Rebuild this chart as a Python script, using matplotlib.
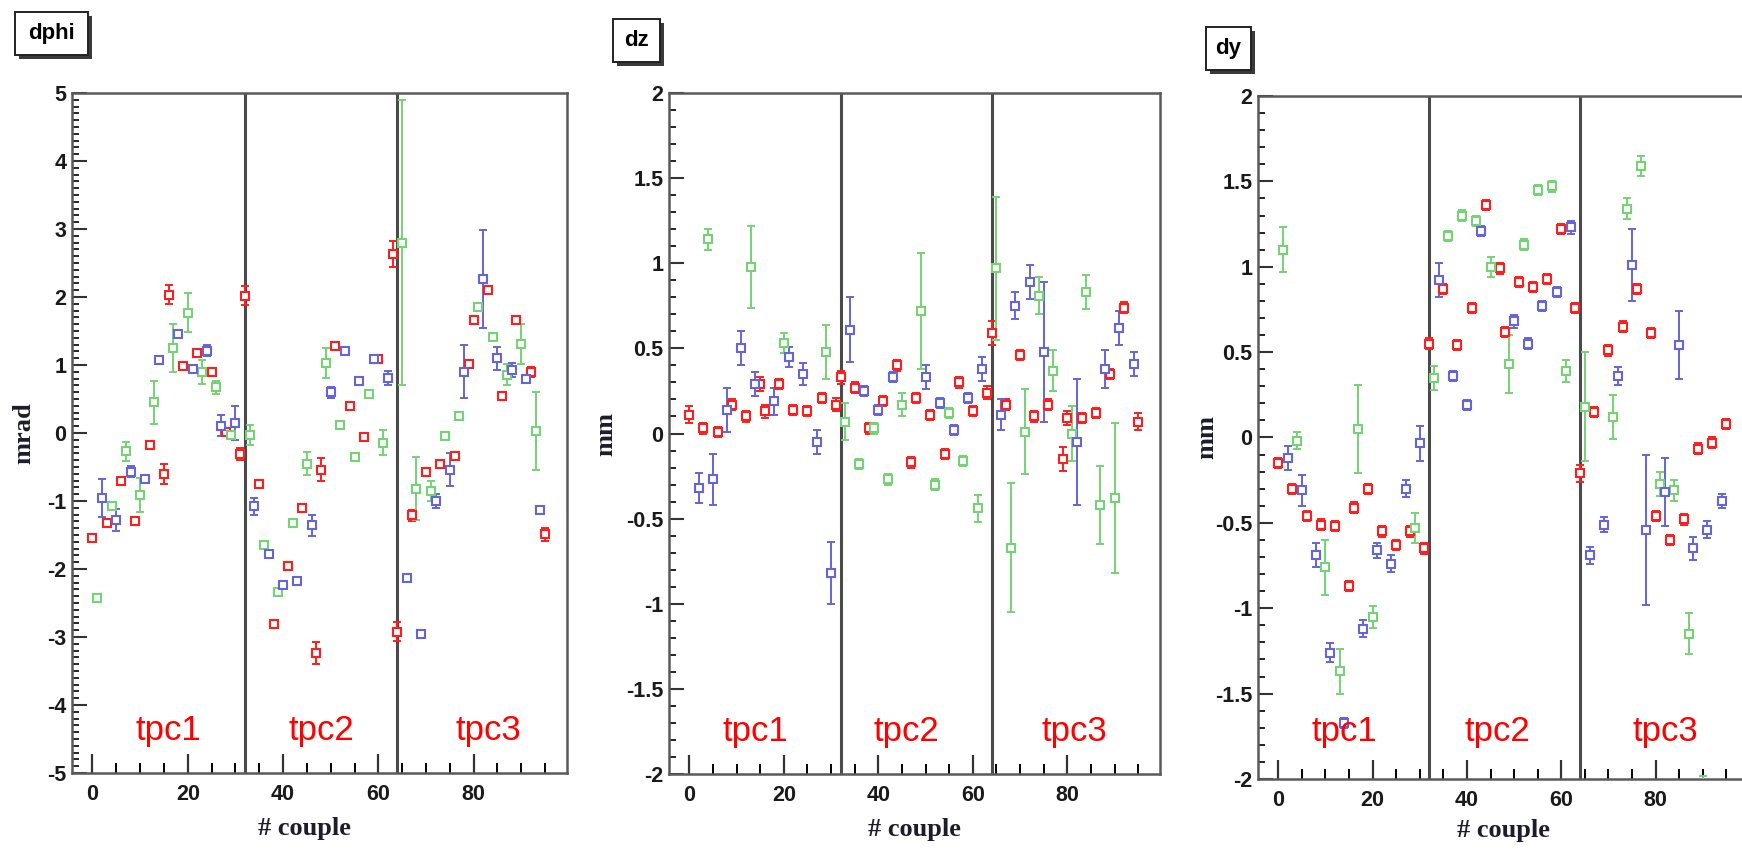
import numpy as np
import matplotlib
matplotlib.use("Agg")
import matplotlib.pyplot as plt
from matplotlib.patches import Rectangle
from matplotlib.ticker import MultipleLocator, FormatStrFormatter

# --- data: one value per couple index (0..95) ---
nan = np.nan
couple = np.arange(96)
# colour of each couple (r/g/b repeats inside each block of 16)
SECTOR = "rgbrgbrgbrgbrgbr" * 6

dphi = [-1.54, -2.42, -0.96, -1.33, -1.08, -1.28, -0.71, -0.27, -0.57, -1.30,
        -0.91, -0.67, -0.17, 0.45, 1.07, -0.60, 2.03, 1.25, 1.45, 0.98,
        1.77, 0.94, 1.18, 0.90, 1.21, 0.90, 0.67, 0.11, 0.01, -0.03,
        0.14, -0.31, 2.02, -0.03, -1.08, -0.75, -1.65, -1.78, -2.81, -2.34,
        -2.23, -1.95, -1.32, -2.18, -1.10, -0.45, -1.36, -3.24, -0.54, 1.03,
        0.60, 1.28, 0.12, 1.21, 0.40, -0.36, 0.77, -0.06, 0.58, 1.09,
        1.09, -0.14, 0.81, 2.63, -2.92, 2.80, -2.13, -1.21, -0.82, -2.95,
        -0.57, -0.85, -1.00, -0.45, -0.05, -0.54, -0.34, 0.25, 0.90, 1.01,
        1.66, 1.86, 2.27, 2.10, 1.41, 1.10, 0.54, 0.86, 0.93, 1.66,
        1.31, 0.79, 0.90, 0.03, -1.13, -1.49]
dphi_err = [0.04, 0.04, 0.28, 0.05, 0.04, 0.16, 0.04, 0.14, 0.08, 0.05,
            0.25, 0.04, 0.05, 0.32, 0.04, 0.15, 0.14, 0.35, 0.04, 0.05,
            0.29, 0.04, 0.05, 0.18, 0.08, 0.06, 0.10, 0.15, 0.05, 0.04,
            0.25, 0.09, 0.14, 0.15, 0.13, 0.04, 0.04, 0.04, 0.04, 0.04,
            0.04, 0.04, 0.04, 0.04, 0.04, 0.17, 0.15, 0.16, 0.17, 0.22,
            0.08, 0.04, 0.04, 0.04, 0.04, 0.04, 0.04, 0.04, 0.04, 0.04,
            0.04, 0.18, 0.10, 0.19, 0.14, 2.10, 0.04, 0.08, 0.46, 0.04,
            0.04, 0.15, 0.10, 0.04, 0.04, 0.24, 0.04, 0.04, 0.39, 0.05,
            0.06, 0.04, 0.72, 0.05, 0.04, 0.17, 0.05, 0.16, 0.10, 0.05,
            0.30, 0.04, 0.07, 0.57, 0.04, 0.10]

dz = [0.11, nan, -0.32, 0.03, 1.14, -0.27, 0.01, nan, 0.14, 0.17,
      nan, 0.50, 0.10, 0.98, 0.29, 0.29, 0.13, nan, 0.19, 0.29,
      0.53, 0.45, 0.14, nan, 0.35, 0.13, nan, -0.05, 0.21, 0.48,
      -0.82, 0.17, 0.33, 0.07, 0.61, 0.27, -0.18, 0.25, 0.03, 0.03,
      0.14, 0.19, -0.27, 0.33, 0.40, 0.17, nan, -0.17, 0.21, 0.72,
      0.33, 0.11, -0.30, 0.18, -0.12, 0.12, 0.02, 0.30, -0.16, 0.21,
      0.13, -0.44, 0.38, 0.24, 0.59, 0.97, 0.11, 0.17, -0.67, 0.75,
      0.46, 0.01, 0.89, 0.10, 0.81, 0.48, 0.17, 0.37, nan, -0.15,
      0.09, 0.00, -0.05, 0.09, 0.83, nan, 0.12, -0.42, 0.38, 0.35,
      -0.38, 0.62, 0.74, nan, 0.41, 0.07]
dz_err = [0.05, 0.03, 0.09, 0.03, 0.06, 0.15, 0.03, 0.03, 0.13, 0.03,
          0.03, 0.10, 0.03, 0.24, 0.07, 0.04, 0.04, 0.03, 0.08, 0.03,
          0.06, 0.06, 0.03, 0.03, 0.065, 0.03, 0.03, 0.07, 0.03, 0.16,
          0.18, 0.04, 0.04, 0.11, 0.19, 0.03, 0.03, 0.03, 0.03, 0.03,
          0.03, 0.03, 0.03, 0.03, 0.03, 0.07, 0.03, 0.03, 0.03, 0.34,
          0.07, 0.03, 0.03, 0.03, 0.03, 0.03, 0.03, 0.03, 0.03, 0.03,
          0.03, 0.08, 0.07, 0.04, 0.07, 0.42, 0.09, 0.03, 0.38, 0.08,
          0.03, 0.25, 0.10, 0.03, 0.11, 0.41, 0.03, 0.12, 0.03, 0.07,
          0.04, 0.16, 0.37, 0.03, 0.10, 0.03, 0.03, 0.23, 0.11, 0.03,
          0.44, 0.10, 0.03, 0.03, 0.07, 0.05]

dy = [-0.15, 1.10, -0.12, -0.30, -0.02, -0.31, -0.46, nan, -0.69, -0.51,
      -0.76, -1.26, -0.52, -1.37, -1.67, -0.87, -0.41, 0.05, -1.12, -0.30,
      -1.05, -0.66, -0.55, nan, -0.74, -0.63, nan, -0.30, -0.55, -0.53,
      -0.035, -0.65, 0.55, 0.35, 0.92, 0.87, 1.18, 0.36, 0.54, 1.30,
      0.19, 0.76, 1.27, 1.21, 1.36, 1.00, nan, 0.99, 0.62, 0.43,
      0.68, 0.91, 1.13, 0.55, 0.88, 1.45, 0.77, 0.93, 1.47, 0.85,
      1.22, 0.39, 1.23, 0.76, -0.21, 0.18, -0.69, 0.15, nan, -0.51,
      0.51, 0.12, 0.36, 0.65, 1.34, 1.01, 0.87, 1.59, -0.54, 0.61,
      -0.46, -0.27, -0.32, -0.60, -0.31, 0.54, -0.48, -1.15, -0.65, -0.065,
      -2.10, -0.54, -0.03, nan, -0.37, 0.08]
dy_err = [0.03, 0.13, 0.07, 0.03, 0.05, 0.09, 0.03, 0.03, 0.07, 0.03,
          0.16, 0.055, 0.03, 0.13, 0.03, 0.03, 0.03, 0.26, 0.05, 0.03,
          0.065, 0.045, 0.03, 0.03, 0.05, 0.03, 0.03, 0.05, 0.03, 0.09,
          0.10, 0.03, 0.03, 0.07, 0.10, 0.03, 0.03, 0.03, 0.03, 0.03,
          0.03, 0.03, 0.03, 0.03, 0.03, 0.06, 0.03, 0.03, 0.03, 0.17,
          0.04, 0.03, 0.03, 0.03, 0.03, 0.03, 0.03, 0.03, 0.03, 0.03,
          0.03, 0.065, 0.04, 0.03, 0.05, 0.32, 0.05, 0.03, 0.03, 0.045,
          0.03, 0.13, 0.055, 0.03, 0.06, 0.21, 0.03, 0.06, 0.44, 0.03,
          0.03, 0.07, 0.20, 0.03, 0.06, 0.20, 0.03, 0.12, 0.065, 0.03,
          0.12, 0.05, 0.03, 0.03, 0.04, 0.03]

TPC_LABELS = ["tpc1", "tpc2", "tpc3"]
TPC_BORDERS = [32, 64]

COLORS = {"r": "#ff1e1e", "g": "#74d474", "b": "#6464dc"}
W, H = 1742, 849

plt.rcParams["font.family"] = ["Liberation Sans", "DejaVu Sans"]
fig = plt.figure(figsize=(W / 100, H / 100), dpi=100)


def px_axes(left, top, right, bottom):
    return fig.add_axes([left / W, 1 - bottom / H, (right - left) / W, (bottom - top) / H])


def title_box(text, left, top, right, bottom):
    # ROOT style title pave with a drop shadow
    sh = 4
    fig.patches.append(Rectangle(((left + sh) / W, 1 - (bottom + sh) / H),
                                 (right - left) / W, (bottom - top) / H,
                                 transform=fig.transFigure, facecolor="#3a3a3a",
                                 edgecolor="none", zorder=1))
    fig.patches.append(Rectangle((left / W, 1 - bottom / H),
                                 (right - left) / W, (bottom - top) / H,
                                 transform=fig.transFigure, facecolor="white",
                                 edgecolor="#222222", lw=1.4, zorder=2))
    fig.text((left + right) / 2 / W, 1 - (top + bottom) / 2 / H, text,
             ha="center", va="center", fontsize=16, fontweight="bold", zorder=3)


def draw_panel(rect, vals, errs, ylim, major, ylab, ylab_x, xlab_pos, tpc_x, tpc_y):
    ax = px_axes(*rect)
    vals = np.array(vals, dtype=float)
    errs = np.array(errs, dtype=float)
    for key in "rgb":
        sel = np.array([c == key for c in SECTOR])
        x, y, e = couple[sel], vals[sel], errs[sel]
        ax.errorbar(x, y, yerr=e, fmt="none", ecolor=COLORS[key], elinewidth=1.4,
                    capsize=3.2, capthick=1.4, zorder=3)
        ax.plot(x, y, "s", ms=5.4, mfc="white", mec=COLORS[key], mew=1.5,
                ls="none", zorder=4)

    for b in TPC_BORDERS:
        ax.axvline(b, color="#4a4a4a", lw=2.2, zorder=2)

    for lab, xx in zip(TPC_LABELS, tpc_x):
        ax.text(xx, tpc_y, lab, color="#ff0000", fontsize=25, ha="center",
                va="center", fontweight="normal", zorder=5)

    ax.set_xlim(-4.3, 99.6)
    ax.set_ylim(*ylim)
    ax.xaxis.set_major_locator(MultipleLocator(20))
    ax.xaxis.set_minor_locator(MultipleLocator(5))
    ax.yaxis.set_major_locator(MultipleLocator(major))
    ax.yaxis.set_minor_locator(MultipleLocator(0.1))
    ax.yaxis.set_major_formatter(FormatStrFormatter("%g"))
    ax.tick_params(axis="x", which="major", direction="in", length=14, width=1.6,
                   top=False, pad=8, labelsize=15.5, colors="#333333")
    ax.tick_params(axis="x", which="minor", direction="in", length=7, width=1.4, top=False)
    ax.tick_params(axis="y", which="major", direction="in", length=11, width=1.5,
                   right=False, pad=4, labelsize=15.5, colors="#333333")
    ax.tick_params(axis="y", which="minor", direction="in", length=5, width=1.2, right=False)
    for lab in ax.get_xticklabels() + ax.get_yticklabels():
        lab.set_fontweight("bold")
        lab.set_color("#1a1a1a")
    for sp in ax.spines.values():
        sp.set_color("#5a5a5a")
        sp.set_linewidth(1.8)

    ax.set_xlabel("# couple", fontsize=19, fontweight="bold", family="Liberation Serif",
                  color="#1c1c2c")
    ax.xaxis.set_label_coords(*xlab_pos)
    ax.set_ylabel(ylab, fontsize=19, fontweight="bold", family="Liberation Serif",
                  color="#1c1c2c")
    ax.yaxis.set_label_coords(ylab_x, 0.5)
    return ax


draw_panel((72, 93, 567, 773), dphi, dphi_err, (-5, 5), 1, "mrad", -0.074,
           (0.47, -0.064), [16, 48, 83], -4.38)
draw_panel((669, 93, 1160, 774), dz, dz_err, (-2, 2), 0.5, "mm", -0.105,
           (0.5, -0.064), [14, 46, 81.5], -1.75)
draw_panel((1258, 96, 1748, 779), dy, dy_err, (-2, 2), 0.5, "mm", -0.08,
           (0.5, -0.058), [14, 46.5, 82], -1.72)

title_box("dphi", 15, 12, 88, 55)
title_box("dz", 613, 19, 660, 62)
title_box("dy", 1206, 27, 1251, 70)

fig.savefig("out.png", dpi=100)
